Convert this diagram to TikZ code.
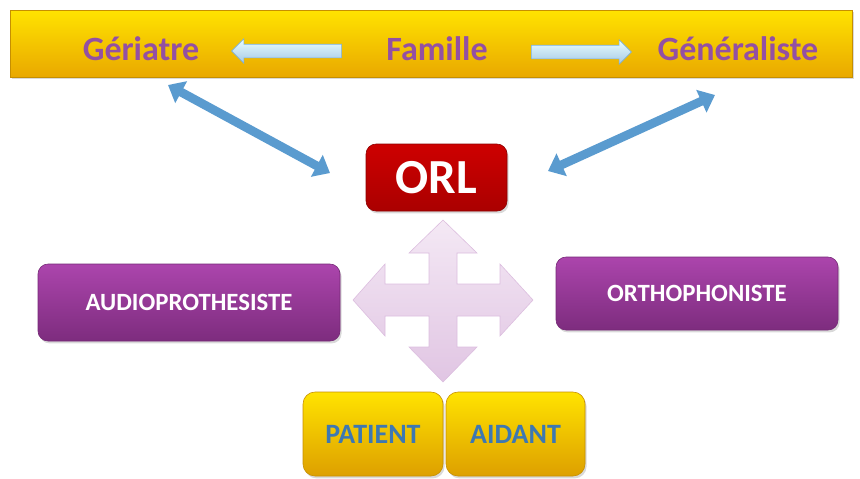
\documentclass[tikz,border=0pt]{standalone}
\usepackage{fontspec}
\setmainfont{Carlito}
\usepackage{tikz}
\usetikzlibrary{arrows.meta,shapes.arrows,shadows}
\definecolor{barhaut}{HTML}{FFE300}
\definecolor{barbas}{HTML}{E9A800}
\definecolor{violet}{HTML}{9350A3}
\definecolor{bleu}{HTML}{5A9BCF}
\definecolor{bleutxt}{HTML}{3D78B2}
\definecolor{rouge}{HTML}{C80000}
\definecolor{mauve}{HTML}{A73BA8}
\definecolor{lilas}{HTML}{E9D2EA}

\tikzset{
  ombre/.style={drop shadow={opacity=0.3, shadow xshift=0.8pt, shadow yshift=-1.2pt}},
  titre/.style={font=\bfseries\fontsize{17}{20}\selectfont, text=violet, anchor=base},
  boitemauve/.style={rounded corners=5pt, top color=mauve!95!white, bottom color=mauve!75!black,
    draw=mauve!70!black, line width=0.3pt, ombre, text=white,
    font=\bfseries\fontsize{12.4}{14}\selectfont},
  boiteor/.style={rounded corners=6pt, top color=barhaut, bottom color=barbas!95!black,
    draw=barbas!85!black, line width=0.3pt, ombre, text=bleutxt,
    font=\bfseries\fontsize{14}{16}\selectfont, minimum width=70pt, minimum height=42pt},
  flechebl/.style={single arrow, single arrow head extend=2.75pt, minimum width=0pt,
    inner xsep=0pt, inner ysep=3.25pt, top color=white!92!cyan, bottom color=bleu!55!white,
    draw=bleu!80!white, line width=0.3pt},
  lienbleu/.style={draw=bleu, line width=4.4pt,
    {Triangle[width=12pt,length=7.5pt]}-{Triangle[width=12pt,length=7.5pt]}}
}

\begin{document}
\begin{tikzpicture}[x=0.5pt, y=-0.5pt]
  \useasboundingbox (0,0) rectangle (860,478);

  % bandeau du haut
  \node[top color=barhaut, bottom color=barbas, draw=barbas!85!black, line width=0.3pt, ombre,
    minimum width=421pt, minimum height=33.5pt] (bar) at (431,43.5) {};
  \node[titre] (ger) at (141,60) {Gériatre};
  \node[titre] (fam) at (437,60) {Famille};
  \node[titre] (gen) at (738,60) {Généraliste};
  \node[flechebl, shape border rotate=180, minimum height=55pt] (fl1) at (290,51) {};
  \node[flechebl, minimum height=50pt] (fl2) at (578,52) {};

  % ORL
  \node[rounded corners=5pt, top color=rouge!90!red, bottom color=rouge!85!black, draw=rouge!70!black,
    line width=0.3pt, ombre, text=white, font=\bfseries\fontsize{24.5}{28}\selectfont,
    minimum width=70.5pt, minimum height=33.5pt] (orl) at (436.5,177.5) {ORL};

  % doubles fleches
  \coordinate (g1) at (168,85);
  \coordinate (g2) at (330,173);
  \coordinate (d1) at (548,171);
  \coordinate (d2) at (715,95);
  \draw[lienbleu] (g1) -- (g2);
  \draw[lienbleu] (d1) -- (d2);

  % croix a quatre fleches
  \shade[top color=lilas!50!white, bottom color=lilas!90!violet, draw=lilas!85!violet, line width=0.3pt]
    (443,220) -- (477,253) -- (457,253) -- (457,284) -- (500,284) -- (500,264) -- (533,300)
    -- (500,336) -- (500,316) -- (457,316) -- (457,347) -- (477,347) -- (443,382) -- (409,347)
    -- (429,347) -- (429,316) -- (385,316) -- (385,336) -- (353,300) -- (385,264) -- (385,284)
    -- (429,284) -- (429,253) -- (409,253) -- cycle;

  \node[boitemauve, minimum width=151pt, minimum height=38.5pt] (audio) at (189,302.5) {AUDIOPROTHESISTE};
  \node[boitemauve, minimum width=141pt, minimum height=36.5pt] (ortho) at (697,293.5) {ORTHOPHONISTE};

  % patient et aidant
  \node[boiteor] (pat) at (373,434) {PATIENT};
  \node[boiteor, minimum width=69.5pt] (aid) at (515.5,434) {AIDANT};
\end{tikzpicture}
\end{document}
